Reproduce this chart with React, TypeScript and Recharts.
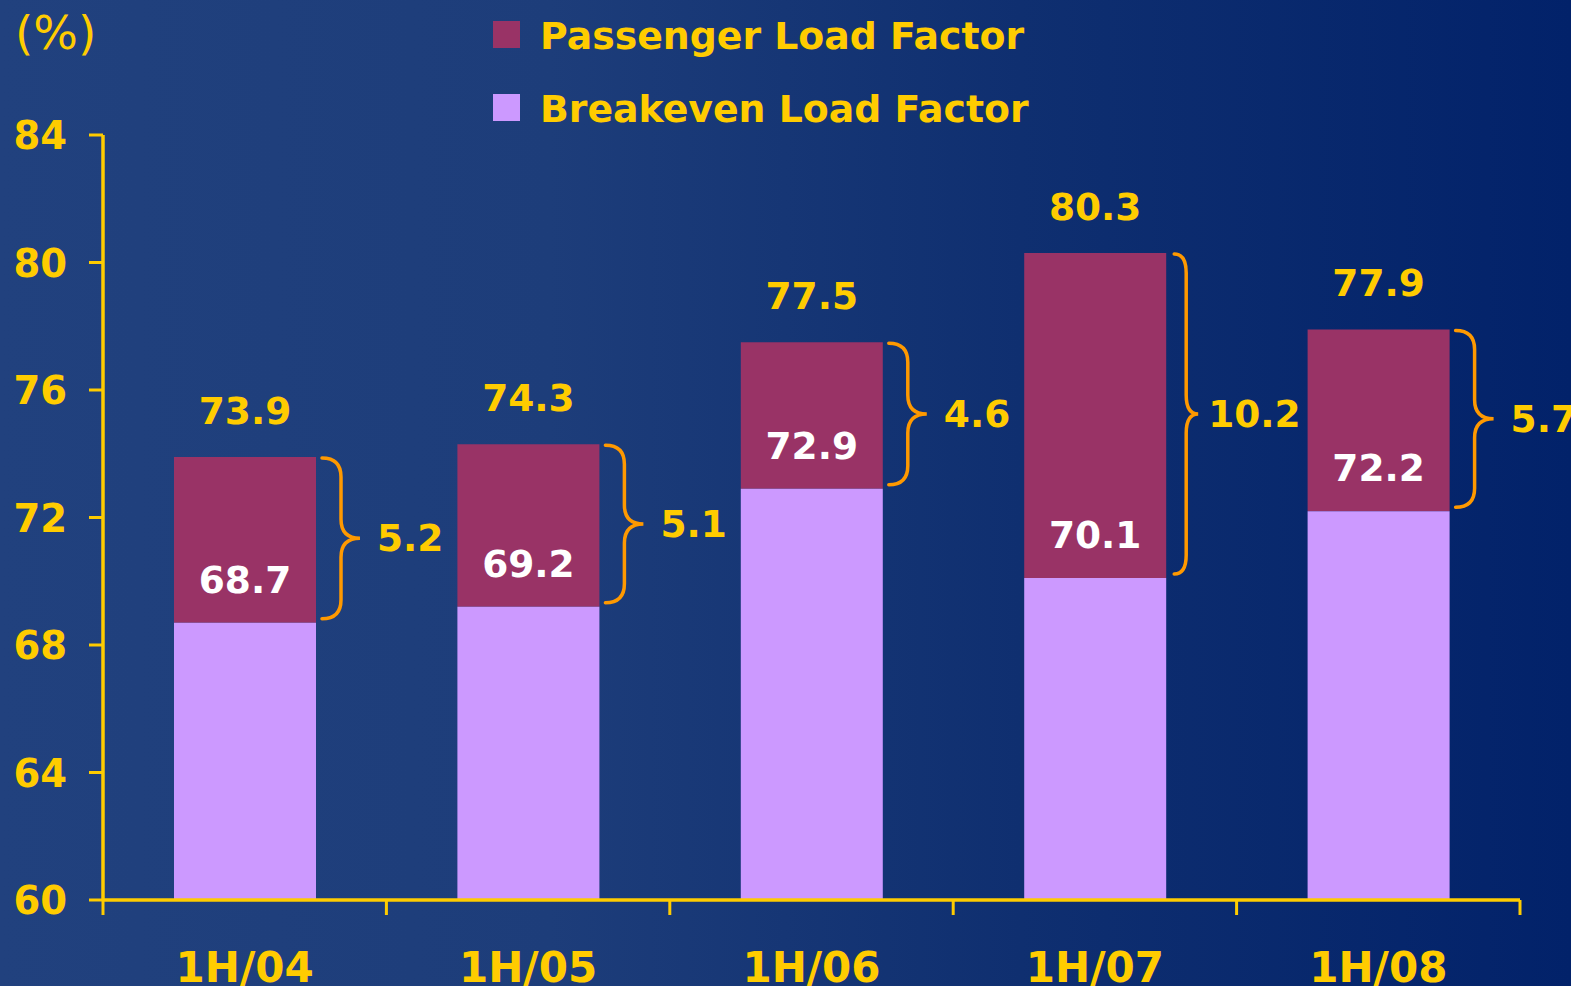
import React from 'react';
import { BarChart, Bar, XAxis, YAxis, LabelList } from 'recharts';

const categories = ['1H/04', '1H/05', '1H/06', '1H/07', '1H/08'];
const passengerLoadFactor = [73.9, 74.3, 77.5, 80.3, 77.9];
const breakevenLoadFactor = [68.7, 69.2, 72.9, 70.1, 72.2];
const spreadLabels = ['5.2', '5.1', '4.6', '10.2', '5.7'];
const yTicks = [60, 64, 68, 72, 76, 80, 84];
const seriesNames = ['Passenger Load Factor', 'Breakeven Load Factor'];

const YELLOW = '#ffcc00';
const ORANGE = '#ff9900';
const PLF = '#993366';
const BLF = '#cc99ff';
const FONT = '"DejaVu Sans", sans-serif';

const data = categories.map((c, i) => ({
  category: c,
  passengerRange: [breakevenLoadFactor[i], passengerLoadFactor[i]],
  passenger: passengerLoadFactor[i],
  breakeven: breakevenLoadFactor[i],
  spread: spreadLabels[i],
}));

function box(p: any) {
  const vb = p.viewBox || {};
  const x = p.x ?? vb.x;
  const y0 = p.y ?? vb.y;
  const w = p.width ?? vb.width;
  const h0 = p.height ?? vb.height;
  const y = h0 < 0 ? y0 + h0 : y0;
  const h = Math.abs(h0);
  return { x, y, w, h };
}

const PassengerLabels = (p: any) => {
  const { x, y, w, h } = box(p);
  const d = data[p.index];
  if (!d) return null;
  const right = x + w;
  const long = d.spread.length > 3;
  const bw = long ? 24 : 38;
  const x0 = right + (long ? 8 : 6);
  const xm = x0 + bw / 2;
  const tip = x0 + bw;
  const y1 = y + 1;
  const y2 = y + h - 4;
  const ym = (y1 + y2) / 2;
  const r = Math.min(19, (y2 - y1) / 4);
  const path = `M${x0},${y1} Q${xm},${y1} ${xm},${y1 + r} L${xm},${ym - r} Q${xm},${ym} ${tip},${ym} Q${xm},${ym} ${xm},${ym + r} L${xm},${y2 - r} Q${xm},${y2} ${x0},${y2}`;
  return (
    <g>
      <text x={x + w / 2} y={y - 33} textAnchor="middle" fill={YELLOW} fontFamily={FONT} fontWeight="bold" fontSize={37.5}>
        {d.passenger.toFixed(1)}
      </text>
      <path d={path} fill="none" stroke={ORANGE} strokeWidth={3.5} strokeLinecap="round" />
      <text x={tip + (long ? 10 : 17)} y={ym + 13} textAnchor="start" fill={YELLOW} fontFamily={FONT} fontWeight="bold" fontSize={37.5}>
        {d.spread}
      </text>
    </g>
  );
};

const BreakevenLabels = (p: any) => {
  const { x, y, w } = box(p);
  const d = data[p.index];
  if (!d) return null;
  return (
    <text x={x + w / 2} y={y - 30} textAnchor="middle" fill="#ffffff" fontFamily={FONT} fontWeight="bold" fontSize={37.5}>
      {d.breakeven.toFixed(1)}
    </text>
  );
};

const CategoryTick = (p: any) => {
  const half = p.payload && typeof p.payload.offset === 'number' && p.payload.offset > 0 ? p.payload.offset : 0;
  const isLast = p.index === categories.length - 1;
  const y0 = p.y;
  return (
    <g>
      {half > 0 && (
        <line x1={p.x - half} x2={p.x - half} y1={y0} y2={y0 + 15} stroke={YELLOW} strokeWidth={3} />
      )}
      {half > 0 && isLast && (
        <line x1={p.x + half} x2={p.x + half} y1={y0} y2={y0 + 15} stroke={YELLOW} strokeWidth={3} />
      )}
      <text x={p.x} y={y0 + 82} textAnchor="middle" fill={YELLOW} fontFamily={FONT} fontWeight="bold" fontSize={42}>
        {p.payload.value}
      </text>
    </g>
  );
};

const YTick = (p: any) => (
  <text x={p.x} y={p.y + 14} textAnchor="end" fill={YELLOW} fontFamily={FONT} fontWeight="bold" fontSize={38.5}>
    {p.payload.value}
  </text>
);

export default function App() {
  return (
    <div
      style={{
        position: 'absolute',
        left: 0,
        top: 0,
        width: 1571,
        height: 986,
        overflow: 'hidden',
        background: 'linear-gradient(90deg, #21417e 0%, #1d3d7a 35%, #0f2f70 65%, #02226a 100%)',
      }}
    >
      <BarChart
        width={1571}
        height={986}
        data={data}
        margin={{ top: 135, right: 51, bottom: 0, left: 0 }}
        barGap={-142}
      >
        <XAxis
          dataKey="category"
          height={86}
          axisLine={{ stroke: YELLOW, strokeWidth: 3.5 }}
          tickLine={false}
          tickSize={0}
          tickMargin={0}
          tick={<CategoryTick />}
          interval={0}
        />
        <YAxis
          width={103}
          domain={[60, 84]}
          ticks={yTicks}
          allowDataOverflow
          axisLine={{ stroke: YELLOW, strokeWidth: 3.5 }}
          tickLine={{ stroke: YELLOW, strokeWidth: 3 }}
          tickSize={14}
          tickMargin={22}
          tick={<YTick />}
          interval={0}
        />
        <Bar dataKey="passengerRange" name={seriesNames[0]} fill={PLF} barSize={142} isAnimationActive={false}>
          <LabelList dataKey="passenger" content={<PassengerLabels />} />
        </Bar>
        <Bar dataKey="breakeven" name={seriesNames[1]} fill={BLF} barSize={142} isAnimationActive={false}>
          <LabelList dataKey="breakeven" content={<BreakevenLabels />} />
        </Bar>
      </BarChart>
      <svg width={1571} height={986} style={{ position: 'absolute', left: 0, top: 0, pointerEvents: 'none' }}>
        <text x={15} y={49} fill={YELLOW} fontFamily={FONT} fontSize={47}>(%)</text>
        <rect x={493} y={21} width={27} height={27} fill={PLF} />
        <text x={540} y={49} fill={YELLOW} fontFamily={FONT} fontWeight="bold" fontSize={37.8}>{seriesNames[0]}</text>
        <rect x={493} y={94} width={27} height={27} fill={BLF} />
        <text x={540} y={122} fill={YELLOW} fontFamily={FONT} fontWeight="bold" fontSize={37.8}>{seriesNames[1]}</text>
      </svg>
    </div>
  );
}
